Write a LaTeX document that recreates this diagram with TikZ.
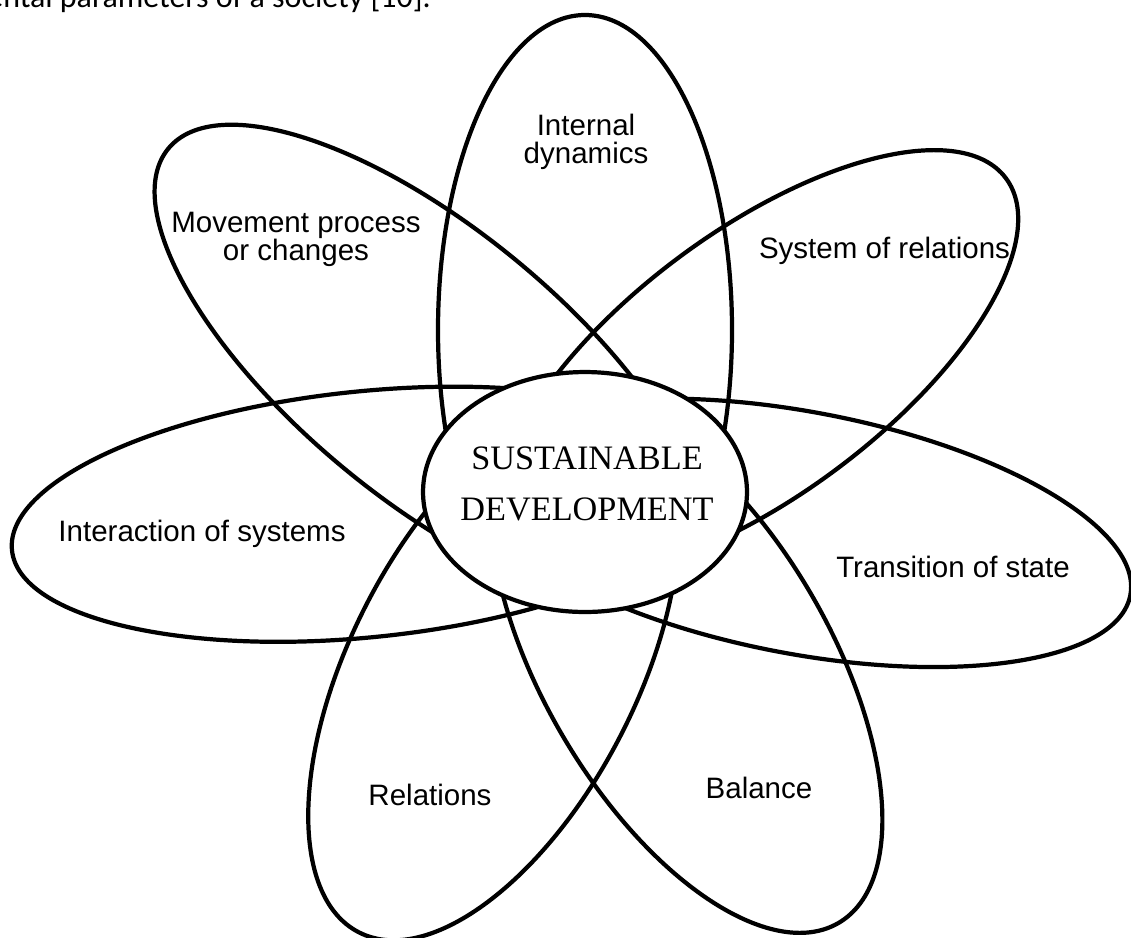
\documentclass[tikz,border=0pt]{standalone}
\usepackage{fontspec}
\setmainfont{Liberation Serif}
\newfontfamily\arialf{Liberation Sans}
\newfontfamily\capf{Carlito}
\usetikzlibrary{shapes.geometric}
\newcommand\drawpetal[4]{% angle, centre offset, long radius, short radius
  \begin{scope}
    \clip[rotate around={#1:(C)}] (585,-1292) rectangle (1385,308);
    \draw[petal, rotate around={#1:(C)}] (585+#2,-492) ellipse [x radius=#3, y radius=#4];
  \end{scope}}
\begin{document}
\begin{tikzpicture}[x=0.02cm,y=0.02cm,
  petal/.style={line width=2.4pt},
  lbl/.style={font=\arialf\fontsize{16.8}{16}\selectfont, inner sep=0pt, align=center},
  centre/.style={ellipse, draw, line width=2.4pt, fill=white, minimum width=6.48cm, minimum height=4.8cm, inner sep=0pt},
  centretext/.style={font=\fontsize{19.5}{29}\selectfont, align=center, inner sep=0pt}]
\useasboundingbox (0,0) rectangle (1131,-937);
\coordinate (C) at (585,-492);
% petals
\drawpetal{90}{162}{315}{147}
\drawpetal{140.5}{200}{340}{135}
\drawpetal{36.7}{215}{310}{132}
\drawpetal{185.8}{220}{356}{123}
\drawpetal{-10.7}{220}{335}{121}
\drawpetal{-59.5}{200}{300}{143}
\drawpetal{-117.2}{200}{295}{143}
% centre
\node[centre] (sd) at (C) {};
\node[centretext] (sdt) at (587,-484) {SUSTAINABLE\\DEVELOPMENT};
% labels
\node[lbl] (l1) at (586,-142) {Internal\\dynamics};
\node[lbl] (l2) at (296,-239) {Movement process\\or changes};
\node[lbl, anchor=base] (l3) at (884.5,-258) {System of relations};
\node[lbl, anchor=base] (l4) at (202,-541) {Interaction of systems};
\node[lbl, anchor=base] (l5) at (953,-577) {Transition of state};
\node[lbl, anchor=base] (l6) at (430,-805) {Relations};
\node[lbl, anchor=base] (l7) at (759,-798) {Balance};
% cut caption at the top
\node[font=\capf\fontsize{18.2}{20}\selectfont, anchor=base east, inner sep=0pt] (cap) at (431,-7) {ental parameters of a society [10].};
\end{tikzpicture}
\end{document}
